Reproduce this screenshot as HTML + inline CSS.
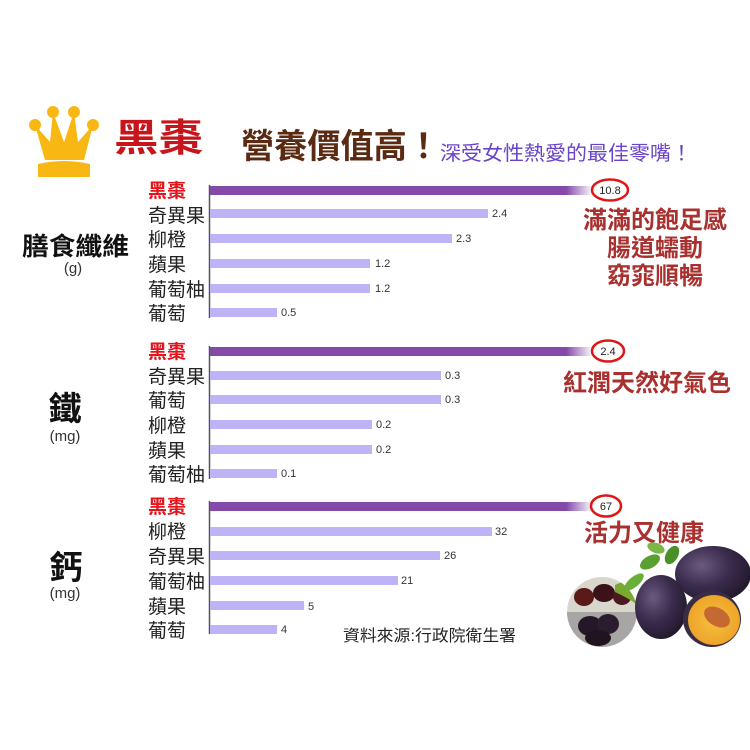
<!DOCTYPE html>
<html>
<head>
<meta charset="utf-8">
<style>
  html,body{margin:0;padding:0;background:#fff;}
  svg{display:block;}
  text{font-family:"Liberation Sans","Noto Sans CJK TC",sans-serif;}
</style>
</head>
<body>
<svg width="750" height="750" viewBox="0 0 750 750" xmlns="http://www.w3.org/2000/svg">
  <defs>
    <linearGradient id="dk" gradientUnits="userSpaceOnUse" x1="210" y1="0" x2="593" y2="0">
      <stop offset="0" stop-color="#8549a9"/>
      <stop offset="0.93" stop-color="#8549a9"/>
      <stop offset="1" stop-color="#8549a9" stop-opacity="0"/>
    </linearGradient>
    <clipPath id="circ"><circle cx="602" cy="612" r="35"/></clipPath>
    <radialGradient id="plum" cx="0.35" cy="0.35" r="0.75">
      <stop offset="0" stop-color="#6a5a80"/>
      <stop offset="0.5" stop-color="#3a2c4c"/>
      <stop offset="1" stop-color="#1e1628"/>
    </radialGradient>
    <radialGradient id="half" cx="0.5" cy="0.5" r="0.6">
      <stop offset="0" stop-color="#f7c040"/>
      <stop offset="0.8" stop-color="#eea52a"/>
      <stop offset="1" stop-color="#b86a20"/>
    </radialGradient>
  </defs>

  <!-- Crown -->
  <g fill="#f8b713">
    <circle cx="35" cy="125" r="6"/>
    <circle cx="53" cy="112" r="6"/>
    <circle cx="74" cy="112" r="6"/>
    <circle cx="93" cy="125" r="6"/>
    <polygon points="35,125 45,160 84,160 93,125 78,142 74,112 64,142 53,112 50,142"/>
    <path d="M38,164 Q64,158 90,164 L90,177 L38,177 Z"/>
  </g>

  <!-- Title -->
  <text x="114" y="151" font-size="38" font-weight="700" fill="#c8151b" textLength="89" lengthAdjust="spacingAndGlyphs">黑棗</text>
  <text x="241" y="158" font-size="34" font-weight="700" fill="#5a2a12" textLength="199" lengthAdjust="spacingAndGlyphs">營養價值高！</text>
  <text x="440" y="160" font-size="20" fill="#6a44c8" textLength="252" lengthAdjust="spacingAndGlyphs">深受女性熱愛的最佳零嘴！</text>

  <!-- Left category labels -->
  <text x="22" y="255" font-size="25" font-weight="700" fill="#111" textLength="107" lengthAdjust="spacingAndGlyphs">膳食纖維</text>
  <text x="73" y="273" font-size="15" fill="#333" text-anchor="middle">(g)</text>
  <text x="65" y="420" font-size="33" font-weight="700" fill="#111" text-anchor="middle">鐵</text>
  <text x="65" y="441" font-size="15" fill="#333" text-anchor="middle">(mg)</text>
  <text x="66" y="579" font-size="33" font-weight="700" fill="#111" text-anchor="middle">鈣</text>
  <text x="65" y="598" font-size="15" fill="#333" text-anchor="middle">(mg)</text>

  <!-- Axis lines -->
  <g stroke="#555" stroke-width="1.5">
    <line x1="209.5" y1="185" x2="209.5" y2="318"/>
    <line x1="209.5" y1="346" x2="209.5" y2="479"/>
    <line x1="209.5" y1="501" x2="209.5" y2="634"/>
  </g>

  <!-- Chart 1 -->
  <g font-size="19" fill="#222">
    <text x="148" y="197" fill="#e4141c" font-weight="700">黑棗</text>
    <text x="148" y="222">奇異果</text>
    <text x="148" y="246">柳橙</text>
    <text x="148" y="271">蘋果</text>
    <text x="148" y="296">葡萄柚</text>
    <text x="148" y="320">葡萄</text>
  </g>
  <rect x="210" y="186" width="383" height="9" fill="url(#dk)"/>
  <g fill="#bfb3f7">
    <rect x="210" y="209" width="278" height="9"/>
    <rect x="210" y="234" width="242" height="9"/>
    <rect x="210" y="259" width="160" height="9"/>
    <rect x="210" y="284" width="160" height="9"/>
    <rect x="210" y="308" width="67" height="9"/>
  </g>
  <g font-size="11" fill="#333">
    <text x="492" y="217">2.4</text>
    <text x="456" y="242">2.3</text>
    <text x="375" y="267">1.2</text>
    <text x="375" y="292">1.2</text>
    <text x="281" y="316">0.5</text>
  </g>
  <ellipse cx="610" cy="190" rx="18" ry="10.5" fill="none" stroke="#e01515" stroke-width="2.5"/>
  <text x="610" y="194" font-size="11" fill="#222" text-anchor="middle">10.8</text>
  <g font-size="24" font-weight="700" fill="#a8302e" text-anchor="middle">
    <text x="655" y="228">滿滿的飽足感</text>
    <text x="655" y="256">腸道蠕動</text>
    <text x="655" y="284">窈窕順暢</text>
  </g>

  <!-- Chart 2 -->
  <g font-size="19" fill="#222">
    <text x="148" y="358" fill="#e4141c" font-weight="700">黑棗</text>
    <text x="148" y="383">奇異果</text>
    <text x="148" y="407">葡萄</text>
    <text x="148" y="432">柳橙</text>
    <text x="148" y="457">蘋果</text>
    <text x="148" y="481">葡萄柚</text>
  </g>
  <rect x="210" y="347" width="383" height="9" fill="url(#dk)"/>
  <g fill="#bfb3f7">
    <rect x="210" y="371" width="231" height="9"/>
    <rect x="210" y="395" width="231" height="9"/>
    <rect x="210" y="420" width="162" height="9"/>
    <rect x="210" y="445" width="162" height="9"/>
    <rect x="210" y="469" width="67" height="9"/>
  </g>
  <g font-size="11" fill="#333">
    <text x="445" y="379">0.3</text>
    <text x="445" y="403">0.3</text>
    <text x="376" y="428">0.2</text>
    <text x="376" y="453">0.2</text>
    <text x="281" y="477">0.1</text>
  </g>
  <ellipse cx="608" cy="351" rx="16" ry="10.5" fill="none" stroke="#e01515" stroke-width="2.5"/>
  <text x="608" y="355" font-size="11" fill="#222" text-anchor="middle">2.4</text>
  <text x="647" y="391" font-size="24" font-weight="700" fill="#a8302e" text-anchor="middle">紅潤天然好氣色</text>

  <!-- Chart 3 -->
  <g font-size="19" fill="#222">
    <text x="148" y="513" fill="#e4141c" font-weight="700">黑棗</text>
    <text x="148" y="538">柳橙</text>
    <text x="148" y="563">奇異果</text>
    <text x="148" y="588">葡萄柚</text>
    <text x="148" y="613">蘋果</text>
    <text x="148" y="637">葡萄</text>
  </g>
  <rect x="210" y="502" width="383" height="9" fill="url(#dk)"/>
  <g fill="#bfb3f7">
    <rect x="210" y="527" width="282" height="9"/>
    <rect x="210" y="551" width="230" height="9"/>
    <rect x="210" y="576" width="188" height="9"/>
    <rect x="210" y="601" width="94" height="9"/>
    <rect x="210" y="625" width="67" height="9"/>
  </g>
  <g font-size="11" fill="#333">
    <text x="495" y="535">32</text>
    <text x="444" y="559">26</text>
    <text x="401" y="584">21</text>
    <text x="308" y="610">5</text>
    <text x="281" y="633">4</text>
  </g>
  <ellipse cx="606" cy="506" rx="15" ry="10.5" fill="none" stroke="#e01515" stroke-width="2.5"/>
  <text x="606" y="510" font-size="11" fill="#222" text-anchor="middle">67</text>
  <text x="644" y="541" font-size="24" font-weight="700" fill="#a8302e" text-anchor="middle">活力又健康</text>

  <!-- Source -->
  <text x="343" y="641" font-size="16" fill="#222" textLength="173" lengthAdjust="spacingAndGlyphs">資料來源:行政院衛生署</text>

  <!-- Fruit illustration -->
  <g clip-path="url(#circ)">
    <rect x="565" y="575" width="75" height="40" fill="#d9d6cc"/>
    <rect x="565" y="612" width="75" height="40" fill="#a8a6a4"/>
    <ellipse cx="584" cy="597" rx="10" ry="9" fill="#5a1a18"/>
    <ellipse cx="604" cy="593" rx="11" ry="9" fill="#3a1218"/>
    <ellipse cx="622" cy="597" rx="9" ry="8" fill="#4a1a20"/>
    <path d="M615,585 Q628,578 638,590 L638,605 Q628,598 615,592 Z" fill="#7aa830"/>
    <ellipse cx="590" cy="626" rx="12" ry="10" fill="#241828"/>
    <ellipse cx="608" cy="624" rx="11" ry="10" fill="#2c1c30"/>
    <ellipse cx="598" cy="638" rx="13" ry="8" fill="#20141f"/>
  </g>
  <!-- leaves -->
  <ellipse cx="650" cy="562" rx="11" ry="6" fill="#5aa030" transform="rotate(-30 650 562)"/>
  <ellipse cx="672" cy="555" rx="10" ry="6" fill="#4a9028" transform="rotate(-60 672 555)"/>
  <ellipse cx="634" cy="582" rx="12" ry="5" fill="#6ab038" transform="rotate(-40 634 582)"/>
  <ellipse cx="656" cy="548" rx="9" ry="5" fill="#7ab848" transform="rotate(20 656 548)"/>
  <!-- top right plum -->
  <ellipse cx="713" cy="574" rx="38" ry="28" fill="url(#plum)"/>
  <!-- big middle plum -->
  <ellipse cx="661" cy="607" rx="26" ry="32" fill="url(#plum)"/>
  <!-- half plum -->
  <ellipse cx="712" cy="619" rx="29" ry="28" fill="#3a2c44"/>
  <ellipse cx="714" cy="620" rx="26" ry="25" fill="url(#half)"/>
  <ellipse cx="717" cy="617" rx="14" ry="9" fill="#c46a30" transform="rotate(30 717 617)"/>
</svg>
</body>
</html>
